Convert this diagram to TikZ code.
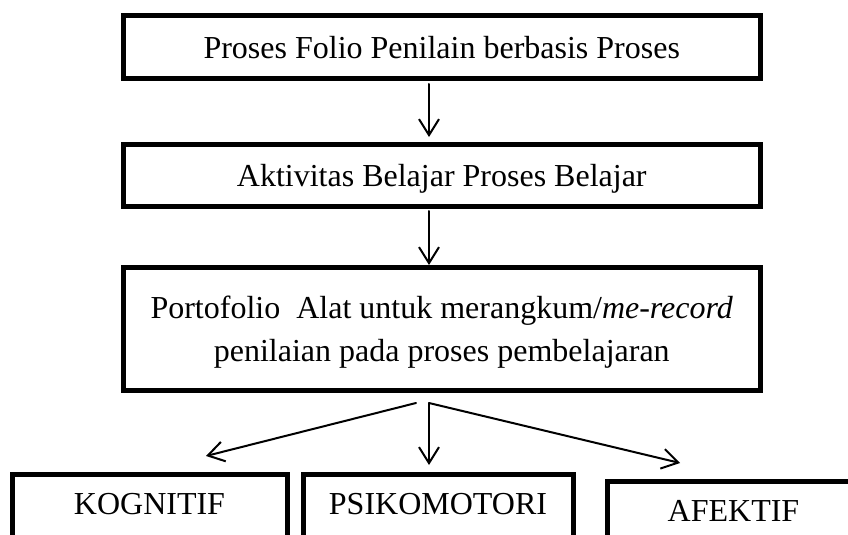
\documentclass[tikz,border=0pt]{standalone}
\usepackage{fontspec}
\setmainfont{Liberation Serif}
\usetikzlibrary {arrows.meta,positioning}

\begin{document}
\begin{tikzpicture}[x=1pt, y=-1pt, node distance= 66.5pt]
      \useasboundingbox (0,0) rectangle (848,535);
      \clip (0,0) rectangle (848,535);
      \begin{scope}[every node/.style={rectangle,draw,line width=5pt,outer sep=0pt,
          font=\fontsize{32}{43}\selectfont,align=center,text depth=0pt,minimum width=636.5pt}]
        \node (F) [minimum height=62pt] at (441.75,47) {Proses Folio Penilain berbasis Proses};
        \node (A) [below= of F, minimum height=61.5pt] {Aktivitas Belajar Proses Belajar};
        \node (P) [below=61.5pt of A, minimum height=122.5pt] {Portofolio\ \ Alat untuk merangkum/\textit{me-record}\\ penilaian pada proses pembelajaran};
      \end{scope}
      \begin{scope}[every node/.style={rectangle,draw,line width=5pt,outer sep=0pt,
          font=\fontsize{32}{43}\selectfont,minimum height=70pt,text height=21pt,text depth=11pt}]
        \node (PS) [below=84.5pt of P, xshift=-3.75pt, minimum width=270pt] {PSIKOMOTORI};
        \node (K) [left=16pt of PS, minimum width=275pt] {KOGNITIF};
        \node (AF) [right=34pt of PS, yshift=-7pt, minimum width=253pt] {AFEKTIF};
      \end{scope}
      \coordinate (S) at ([xshift=-12.75pt,yshift=-13pt]P.south);
      \coordinate (tK) at (206,456);
      \coordinate (tP) at (429,465);
      \coordinate (tA) at (680,463);
      \begin{scope}
        [every edge/.style={draw=black,line width=2pt,line cap=round,
          -{Straight Barb[length=16pt,width=20pt]}}]
        \path ([xshift=-12.75pt]F.south) edge[shorten <=6pt,shorten >=7.5pt] ([xshift=-12.75pt]A.north);
        \path ([xshift=-12.75pt]A.south) edge[shorten <=5pt,shorten >=2.5pt] ([xshift=-12.75pt]P.north);
        \path ([xshift=-13pt]S) edge (tK);
        \path (S) edge (tP);
        \path (S) edge (tA);
      \end{scope}
    \end{tikzpicture}
\end{document}
